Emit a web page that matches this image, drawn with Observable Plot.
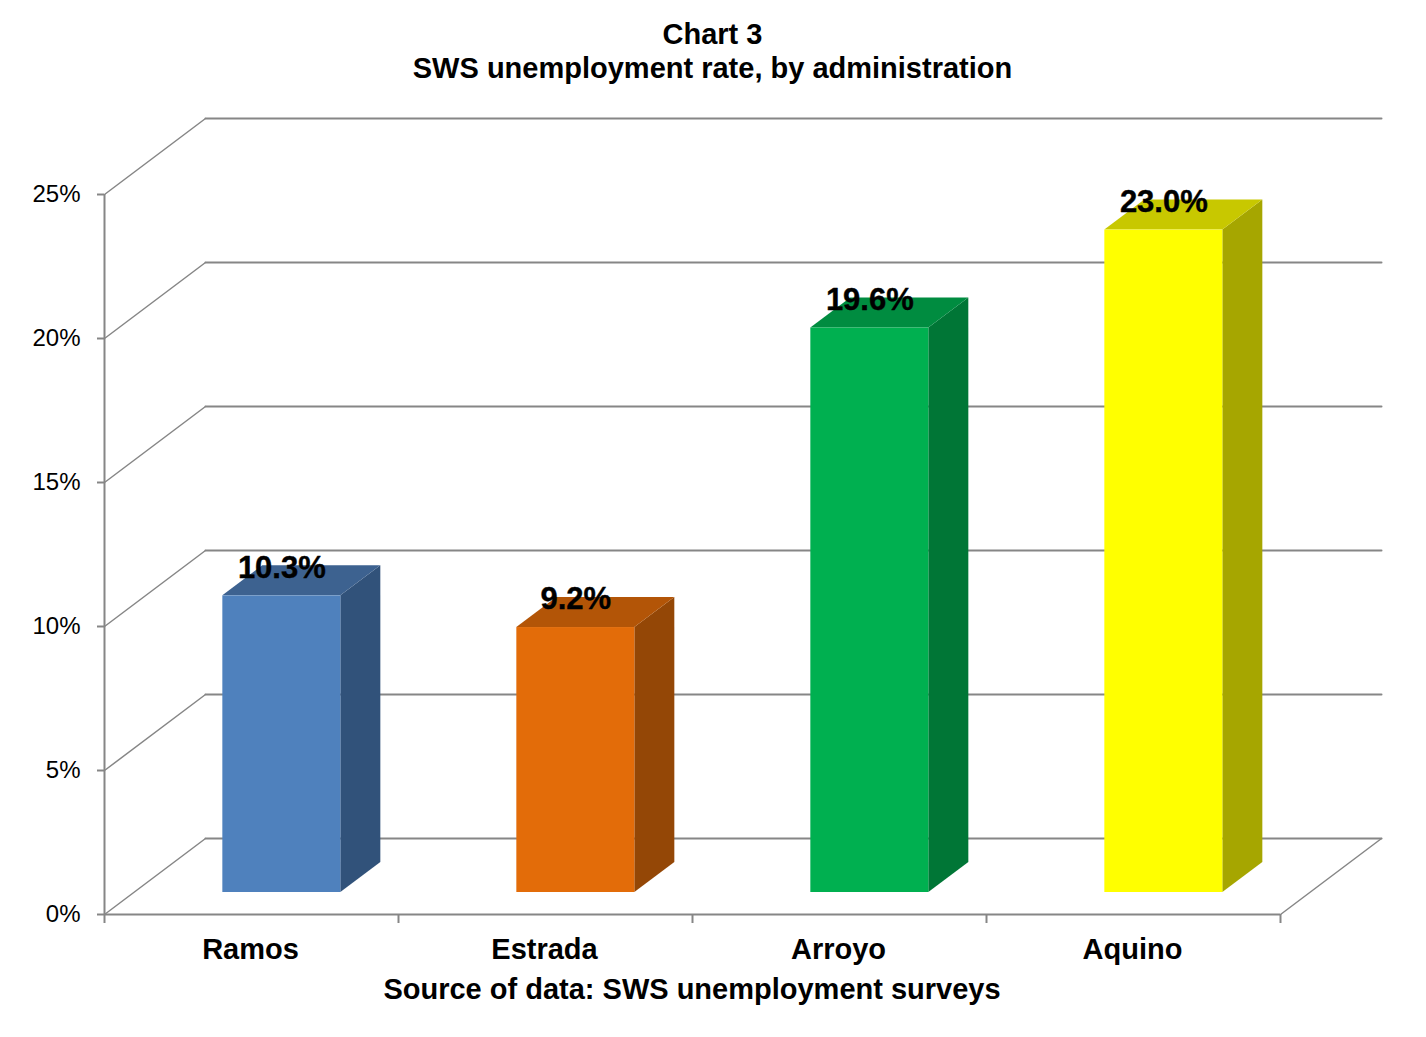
<!DOCTYPE html>
<html>
<head>
<meta charset="utf-8">
<script src="https://cdn.jsdelivr.net/npm/d3@7"></script>
<script src="https://cdn.jsdelivr.net/npm/@observablehq/plot@0.6"></script>
<style>
  html, body { margin: 0; padding: 0; background: #fff; font-family: "Liberation Sans", Arial, sans-serif; color: #000; }
  #page { width: 1426px; height: 1037px; overflow: hidden; }
  #title { width: 1425px; height: 100px; box-sizing: border-box; padding-top: 17px; text-align: center; font-weight: bold; font-size: 29px; line-height: 34px; }
  #chart svg { display: block; }
  #caption { width: 1384px; text-align: center; font-weight: bold; font-size: 29px; line-height: 38px; }
</style>
</head>
<body>
<div id="page">
  <div id="title">Chart 3<br>SWS unemployment rate, by administration</div>
  <div id="chart"></div>
  <div id="caption">Source of data: SWS unemployment surveys</div>
</div>
<script>
// Data
const categories = ["Ramos", "Estrada", "Arroyo", "Aquino"];
const rates = [10.3, 9.2, 19.6, 23.0];
const rateLabels = ["10.3%", "9.2%", "19.6%", "23.0%"];
const yTicks = [0, 5, 10, 15, 20, 25];
const xTicks = [0, 1, 2, 3, 4];

// Colours
const frontColors = ["#4F81BD", "#E36C09", "#00B050", "#FFFF00"];
const topColors = ["#3D6290", "#B35507", "#008C40", "#C8C800"];
const sideColors = ["#31527A", "#944706", "#007636", "#A6A600"];
const gridColor = "#868686";

// 3D geometry, in data units of the two scales
const wallDX = 101 / 294, wallDY = 76 / 28.8;   // depth of the floor
const barInsetDX = 0.1, barInsetDY = 22 / 28.8; // bar front, relative to the floor front
const barDX = 40 / 294, barDY = 30 / 28.8;      // depth of a bar
const barLeft = 0.3025, barWidth = 118 / 294;   // within a category slot

const bars = categories.map((c, i) => {
  const x0 = i + barLeft + barInsetDX, x1 = x0 + barWidth;
  return {c, v: rates[i], label: rateLabels[i], x0, x1, base: barInsetDY, top: barInsetDY + rates[i],
          front: frontColors[i], topFill: topColors[i], side: sideColors[i]};
});
const sidePts = bars.flatMap(b => [
  {c: b.c, side: b.side, x: b.x1, y1: b.base, y2: b.top},
  {c: b.c, side: b.side, x: b.x1 + barDX, y1: b.base + barDY, y2: b.top + barDY}
]);
const topPts = bars.flatMap(b => [
  {c: b.c, fill: b.topFill, y: b.top, x1: b.x0, x2: b.x1},
  {c: b.c, fill: b.topFill, y: b.top + barDY, x1: b.x0 + barDX, x2: b.x1 + barDX}
]);
const leftWall = yTicks.flatMap(t => [{t, x: 0, y: t}, {t, x: wallDX, y: t + wallDY}]);
const backWall = yTicks.flatMap(t => [{t, x: wallDX, y: t + wallDY}, {t, x: 4 + wallDX, y: t + wallDY}]);
const floorRight = [{x: 4, y: 0}, {x: 4 + wallDX, y: wallDY}];

const line = {stroke: gridColor, strokeWidth: 2};
const plot = Plot.plot({
  width: 1426,
  height: 870,
  marginLeft: 104,
  marginRight: 146,
  marginTop: 94,
  marginBottom: 56,
  style: {background: "#fff", fontFamily: '"Liberation Sans", Arial, sans-serif', overflow: "visible"},
  x: {type: "linear", domain: [0, 4]},
  y: {type: "linear", domain: [0, 25]},
  marks: [
    Plot.line(backWall, {x: "x", y: "y", z: "t", ...line}),
    Plot.line(leftWall, {x: "x", y: "y", z: "t", ...line, strokeWidth: 1.5}),
    Plot.line(floorRight, {x: "x", y: "y", ...line, strokeWidth: 1.5}),
    Plot.ruleX([0], {y1: 0, y2: 25, ...line}),
    Plot.ruleY([0], {x1: 0, x2: 4, ...line}),
    Plot.axisY({ticks: yTicks, tickFormat: d => d + "%", anchor: "left", tickSize: 7, tickPadding: 17,
                fontSize: 24, stroke: gridColor, fill: "#000", strokeWidth: 2, label: null}),
    Plot.axisX({ticks: xTicks, tickFormat: () => "", anchor: "bottom", tickSize: 9, stroke: gridColor, strokeWidth: 2, label: null}),
    Plot.axisX({ticks: categories.map((c, i) => i + 0.5), tickFormat: d => categories[Math.floor(d)], anchor: "bottom",
                tickSize: 0, tickPadding: 24, dx: -1, fontSize: 29, fontWeight: "bold", fill: "#000", label: null}),
    Plot.areaY(sidePts, {x: "x", y1: "y1", y2: "y2", z: "c", fill: {value: "side", scale: null}}),
    Plot.areaX(topPts, {y: "y", x1: "x1", x2: "x2", z: "c", fill: {value: "fill", scale: null}}),
    Plot.rect(bars, {x1: "x0", x2: "x1", y1: "base", y2: "top", fill: {value: "front", scale: null}}),
    Plot.text(bars, {x: d => (d.x0 + d.x1) / 2, y: "top", text: "label", dy: -28, fontSize: 31, fontWeight: "bold", fill: "#000", stroke: "#000", strokeWidth: 0.4})
  ]
});
document.getElementById("chart").appendChild(plot);
</script>
</body>
</html>
